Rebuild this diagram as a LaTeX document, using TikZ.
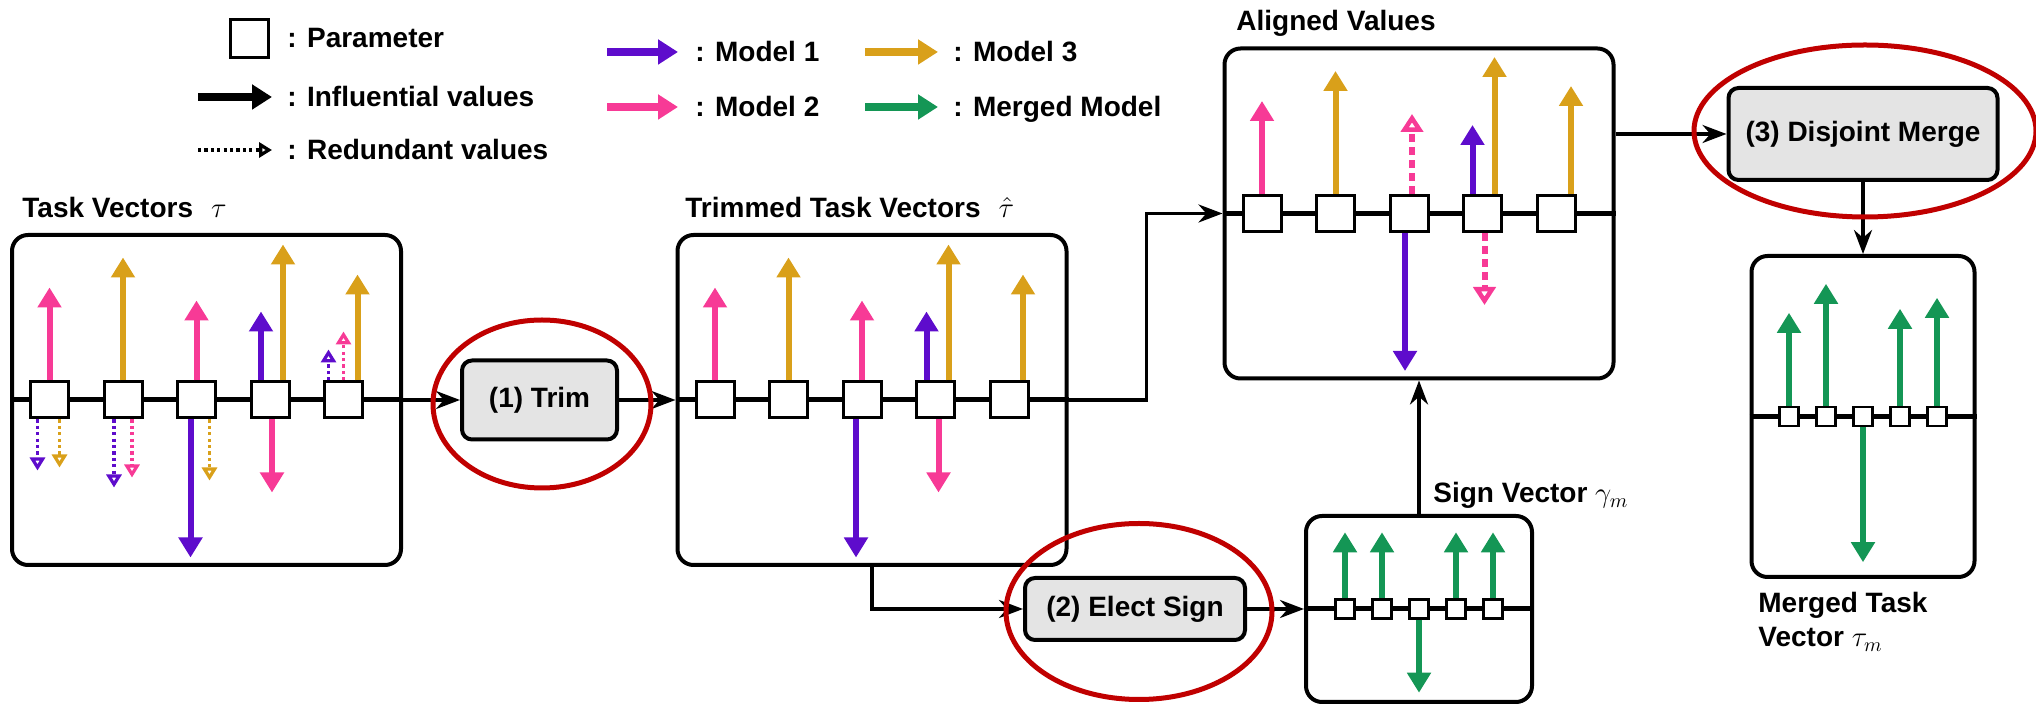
\documentclass[tikz,border=0pt]{standalone}
\usepackage{amsmath}
\usepackage{fontspec}
\setmainfont{Liberation Sans}
\usepackage{tikz}
\usetikzlibrary{arrows.meta, positioning, calc}

\definecolor{modelone}{RGB}{94,12,204}
\definecolor{modeltwo}{RGB}{247,58,150}
\definecolor{modelthree}{RGB}{217,160,26}
\definecolor{mergedgreen}{RGB}{20,150,85}
\definecolor{ringred}{RGB}{192,0,0}
\definecolor{opgray}{RGB}{228,228,228}

\begin{document}
\begin{tikzpicture}[
    x=0.5pt, y=-0.5pt,
    every node/.style={font=\fontsize{14}{17}\selectfont\bfseries},
    panel/.style={rectangle, draw, line width=2pt, rounded corners=8pt, minimum width=194.5pt, minimum height=165pt, inner sep=0pt},
    smallpanel/.style={panel, minimum width=113pt, minimum height=93pt},
    tallpanel/.style={panel, minimum width=111.5pt, minimum height=160.5pt},
    opbox/.style={rectangle, draw, line width=2pt, rounded corners=5pt, fill=opgray, inner sep=0pt, align=center},
    param/.style={rectangle, draw, line width=1.5pt, fill=white, minimum width=19pt, minimum height=18pt, inner sep=0pt},
    smallparam/.style={param, line width=1.2pt, minimum width=9.5pt, minimum height=9.5pt},
    lbl/.style={anchor=base west, inner sep=0pt},
    axisline/.style={line width=2.5pt},
    arrow/.style={-{Stealth[length=12pt, width=9pt]}, line width=1.8pt},
    keyarrow/.style={-{Triangle[length=10pt, width=12pt]}, line width=4pt},
    val/.style={-{Triangle[length=10pt, width=11.5pt]}, line width=3pt},
    redund/.style={-{Triangle[open, length=6.5pt, width=7.5pt]}, line width=1.7pt, dash pattern=on 1.6pt off 1.6pt},
    weak/.style={-{Triangle[open, length=9pt, width=11pt]}, line width=3pt, dash pattern=on 4pt off 2.5pt},
    ring/.style={draw=ringred, line width=2.5pt},
]
\useasboundingbox (0,0) rectangle (2036,704);

% legend
\node[param, minimum height=19pt] (key) at (249,39) {};
\node[lbl] (keyparam) at (287,48) {: Parameter};
\node[lbl] (keyinf) at (287,107) {: Influential values};
\node[lbl] (keyred) at (287,160) {: Redundant values};
\node[lbl] (keym1) at (695,62) {: Model 1};
\node[lbl] (keym2) at (695,117) {: Model 2};
\node[lbl] (keym3) at (953,62) {: Model 3};
\node[lbl] (keymg) at (953,117) {: Merged Model};

\draw[keyarrow] ([xshift=-44.5pt, yshift=5pt]keyinf.base west) -- ([xshift=-7.5pt, yshift=5pt]keyinf.base west);
\draw[redund, black] ([xshift=-44.5pt, yshift=5pt]keyred.base west) -- ([xshift=-7.5pt, yshift=5pt]keyred.base west);
\draw[keyarrow, modelone] ([xshift=-44pt, yshift=5pt]keym1.base west) -- ([xshift=-8.5pt, yshift=5pt]keym1.base west);
\draw[keyarrow, modeltwo] ([xshift=-44pt, yshift=5pt]keym2.base west) -- ([xshift=-8.5pt, yshift=5pt]keym2.base west);
\draw[keyarrow, modelthree] ([xshift=-44pt, yshift=5pt]keym3.base west) -- ([xshift=-7.5pt, yshift=5pt]keym3.base west);
\draw[keyarrow, mergedgreen] ([xshift=-44pt, yshift=5pt]keymg.base west) -- ([xshift=-7.5pt, yshift=5pt]keymg.base west);

% panels
\node[panel] (tv) at (206.5,400) {};
\node[panel] (tt) at (872,400) {};
\node[panel] (al) at (1419,213.5) {};
\node[smallpanel] (sg) at (1419,609) {};
\node[tallpanel] (mg) at (1863,416.5) {};

\node[lbl] (tvlabel) at (22,218) {Task Vectors\hspace{9pt}$\tau$};
\node[lbl] (ttlabel) at (685,218) {Trimmed Task Vectors\hspace{9pt}$\hat{\tau}$};
\node[lbl] (allabel) at (1236,31) {Aligned Values};
\node[lbl] (sglabel) at (1433,503) {Sign Vector $\gamma_m$};
\node[anchor=north west, inner sep=0pt, align=left] (mglabel) at (1758,592) {Merged Task\\Vector $\tau_m$};

\draw[axisline] (tv.west) -- (tv.east);
\draw[axisline] (tt.west) -- (tt.east);
\draw[axisline] (al.west) -- (al.east);
\draw[axisline] (sg.west) -- (sg.east);
\draw[axisline] (mg.west) -- (mg.east);

\foreach \i/\dx in {1/-157, 2/-83.5, 3/-10, 4/63.5, 5/137} {
    \node[param] (tv\i) at ($(tv.center)+(\dx,0)$) {};
    \node[param] (tt\i) at ($(tt.center)+(\dx,0)$) {};
    \node[param] (al\i) at ($(al.center)+(\dx,0)$) {};
}
\foreach \i/\dx in {1/-74, 2/-37, 3/0, 4/37, 5/74} {
    \node[smallparam] (sg\i) at ($(sg.center)+(\dx,0)$) {};
    \node[smallparam] (mg\i) at ($(mg.center)+(\dx,0)$) {};
}

% task vectors
\draw[val, modeltwo] (tv1.north) -- ++(0,-93);
\draw[redund, modelone] ([xshift=-6pt]tv1.south) -- ++(0,51);
\draw[redund, modelthree] ([xshift=5pt]tv1.south) -- ++(0,48);
\draw[val, modelthree] (tv2.north) -- ++(0,-123);
\draw[redund, modelone] ([xshift=-4.5pt]tv2.south) -- ++(0,68);
\draw[redund, modeltwo] ([xshift=4.5pt]tv2.south) -- ++(0,58);
\draw[val, modeltwo] (tv3.north) -- ++(0,-80);
\draw[val, modelone] ([xshift=-3pt]tv3.south) -- ++(0,138);
\draw[redund, modelthree] ([xshift=6.5pt]tv3.south) -- ++(0,61);
\draw[val, modelone] ([xshift=-4.5pt]tv4.north) -- ++(0,-69);
\draw[val, modelthree] ([xshift=6.5pt]tv4.north) -- ++(0,-136);
\draw[val, modeltwo] ([xshift=1pt]tv4.south) -- ++(0,73);
\draw[val, modelthree] ([xshift=7pt]tv5.north) -- ++(0,-106);
\draw[redund, modelone] ([xshift=-7.5pt]tv5.north) -- ++(0,-31);
\draw[redund, modeltwo] (tv5.north) -- ++(0,-49);

% trimmed task vectors
\draw[val, modeltwo] (tt1.north) -- ++(0,-93);
\draw[val, modelthree] (tt2.north) -- ++(0,-123);
\draw[val, modeltwo] (tt3.north) -- ++(0,-80);
\draw[val, modelone] ([xshift=-3pt]tt3.south) -- ++(0,138);
\draw[val, modelone] ([xshift=-4.5pt]tt4.north) -- ++(0,-69);
\draw[val, modelthree] ([xshift=6.5pt]tt4.north) -- ++(0,-136);
\draw[val, modeltwo] ([xshift=1.5pt]tt4.south) -- ++(0,73);
\draw[val, modelthree] ([xshift=7pt]tt5.north) -- ++(0,-106);

% aligned values
\draw[val, modeltwo] (al1.north) -- ++(0,-93);
\draw[val, modelthree] (al2.north) -- ++(0,-123);
\draw[weak, modeltwo] ([xshift=1.5pt]al3.north) -- ++(0,-80);
\draw[val, modelone] ([xshift=-2pt]al3.south) -- ++(0,138);
\draw[val, modelone] ([xshift=-5pt]al4.north) -- ++(0,-69);
\draw[val, modelthree] ([xshift=6pt]al4.north) -- ++(0,-137);
\draw[weak, modeltwo] ([xshift=1pt]al4.south) -- ++(0,72);
\draw[val, modelthree] ([xshift=7.5pt]al5.north) -- ++(0,-108);

% sign vector
\draw[val, mergedgreen] (sg1.north) -- ++(0,-66);
\draw[val, mergedgreen] (sg2.north) -- ++(0,-66);
\draw[val, mergedgreen] (sg4.north) -- ++(0,-66);
\draw[val, mergedgreen] (sg5.north) -- ++(0,-66);
\draw[val, mergedgreen] (sg3.south) -- ++(0,73);

% merged task vector
\draw[val, mergedgreen] (mg1.north) -- ++(0,-93);
\draw[val, mergedgreen] (mg2.north) -- ++(0,-122);
\draw[val, mergedgreen] (mg4.north) -- ++(0,-97);
\draw[val, mergedgreen] (mg5.north) -- ++(0,-108);
\draw[val, mergedgreen] (mg3.south) -- ++(0,135);

% steps
\node[opbox, minimum width=77.5pt, minimum height=39.5pt] (trim) at (539.5,400) {(1) Trim};
\node[opbox, minimum width=110pt, minimum height=31pt] (elect) at (1135,609) {(2) Elect Sign};
\node[opbox, minimum width=134.5pt, minimum height=46pt] (merge) at (1863,134) {(3) Disjoint Merge};

\draw[arrow] (tv.east) -- (trim.west);
\draw[arrow] (trim.east) -- (tt.west);
\draw[arrow] (tt.east) -- ++(78,0) |- (al.west);
\draw[arrow] (merge.west -| al.east) -- (merge.west);
\draw[arrow] (merge.south) -- (mg.north);
\draw[arrow] (tt.south) |- (elect.west);
\draw[arrow] (elect.east) -- (sg.west);
\draw[arrow] (sg.north) -- (al.south);

% highlights
\draw[ring] ([shift={(2.5,4)}]trim.center) ellipse [x radius=54.5pt, y radius=42pt];
\draw[ring] ([shift={(4,2.5)}]elect.center) ellipse [x radius=66.5pt, y radius=44pt];
\draw[ring] ([shift={(2,-3)}]merge.center) ellipse [x radius=85.5pt, y radius=43pt];
\end{tikzpicture}
\end{document}
